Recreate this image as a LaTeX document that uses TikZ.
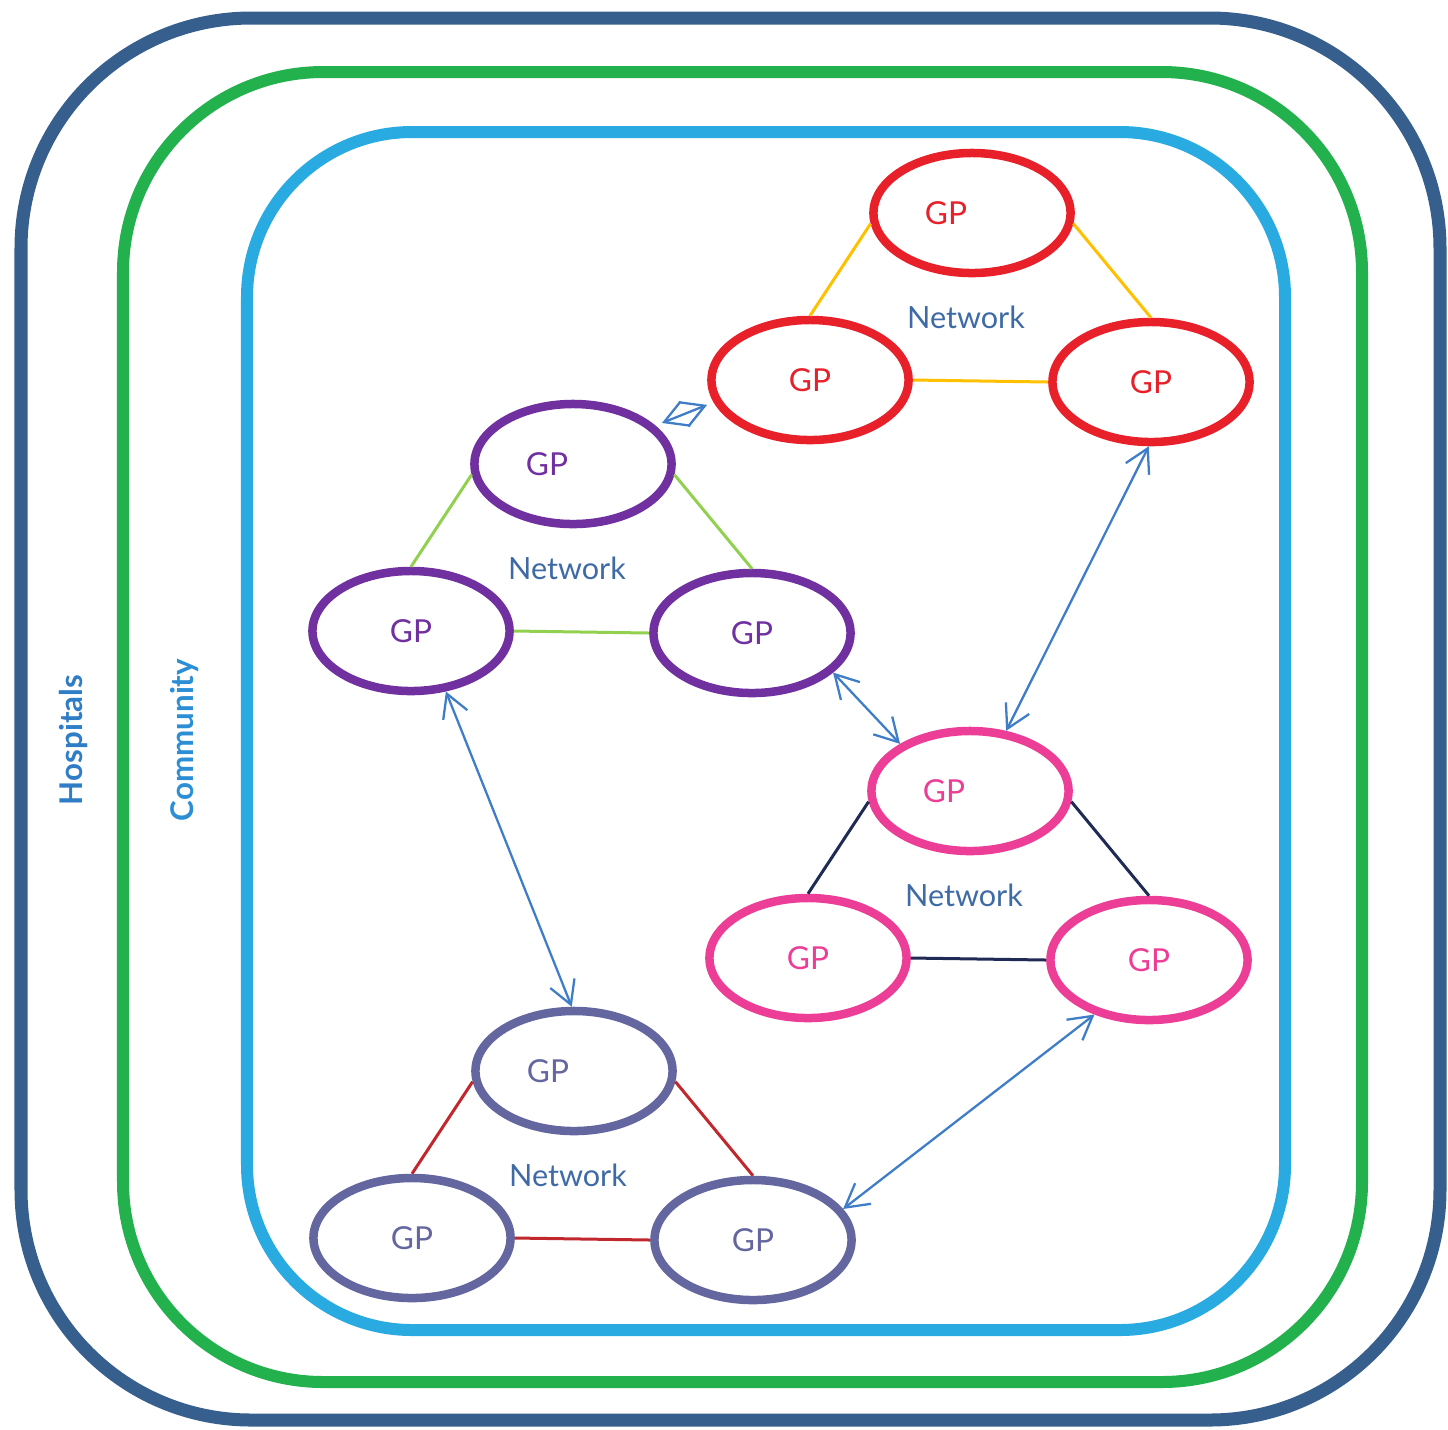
\documentclass[tikz,border=0pt]{standalone}
\usepackage{fontspec}
\setmainfont{Lato}
\usepackage{tikz}
\usetikzlibrary{shapes.geometric,arrows.meta}

\definecolor{hospblue}{HTML}{365F8D}
\definecolor{commgreen}{HTML}{22B14C}
\definecolor{practblue}{HTML}{29ABE2}
\definecolor{hosplabel}{HTML}{2F7DC6}
\definecolor{commlabel}{HTML}{2C8FD6}
\definecolor{gpred}{HTML}{E8202A}
\definecolor{gppurple}{HTML}{7030A0}
\definecolor{gppink}{HTML}{EC3E96}
\definecolor{gpslate}{HTML}{64669F}
\definecolor{tieyellow}{HTML}{FFC000}
\definecolor{tiegreen}{HTML}{92D050}
\definecolor{tienavy}{HTML}{1F2A55}
\definecolor{tiered}{HTML}{C0282E}
\definecolor{arrowblue}{HTML}{3F7DC8}
\definecolor{nettext}{HTML}{3E6AA6}

\begin{document}
\begin{tikzpicture}[x=0.01cm, y=-0.01cm,
	gpnode/.style={ellipse, draw=#1, text=#1, line width=0.085cm, minimum width=1.97cm, minimum height=1.2cm, inner sep=0pt, font=\fontsize{9}{10}\selectfont},
	gptop/.style={text width=0.94cm, align=left},
	nettag/.style={text=nettext, font=\fontsize{8.7}{10}\selectfont},
	gplink/.style={draw=#1, line width=0.03cm},
	peer/.style={<->, draw=arrowblue, line width=0.65pt, >={Straight Barb[length=0.23cm,width=0.26cm]}},
	zone/.style={draw=#1, line width=0.12cm},
	sidetag/.style={rotate=90, font=\fontsize{8.9}{10}\selectfont\bfseries}]
			\useasboundingbox (0,0) rectangle (1448,1429);
			
			% the three care levels
			\draw[zone=hospblue, line width=0.13cm, rounded corners=2.3cm] (21,18) rectangle (1440,1420);
			\draw[zone=commgreen, rounded corners=2.0cm] (123,72) rectangle (1362,1382);
			\draw[zone=practblue, rounded corners=1.65cm] (247,132) rectangle (1285,1330);
			
			\node[sidetag, text=hosplabel] (hosp) at (73,740) {Hospitals};
			\node[sidetag, text=commlabel] (comm) at (185,740) {Community};
			
			% one network = three GPs around a label
			\foreach \net/\x/\y/\ring/\tie in
			{red/810/380/gpred/tieyellow, purple/411/631/gppurple/tiegreen,
				pink/808/958/gppink/tienavy, slate/412/1238/gpslate/tiered}{
				\begin{scope}[shift={(\x,\y)}]
					\node[gpnode=\ring] (\net L) at (0,0) {GP};
					\node[gpnode=\ring, gptop] (\net T) at (162,-167) {GP};
					\node[gpnode=\ring] (\net R) at (341,2) {GP};
					\node[nettag] (\net N) at (156,-63) {Network};
					\draw[gplink=\tie] (\net T.186) -- (\net L.north);
					\draw[gplink=\tie] (\net T.-6) -- (\net R.north);
					\draw[gplink=\tie] (\net L.east) -- (\net R.west);
				\end{scope}
			}
			
			% links between networks
			\draw[peer] (purpleL.-60) -- (slateT.92);
			\draw[peer] (purpleR.-26) -- (pinkT.146);
			\draw[peer] (redR.-92) -- (pinkT.59);
			\draw[peer] (pinkR.-135) -- (slateR.19);
			\draw[peer, shorten <=0.07cm, shorten >=0.07cm] (purpleT.25) -- (redL.-167);
		\end{tikzpicture}
\end{document}
